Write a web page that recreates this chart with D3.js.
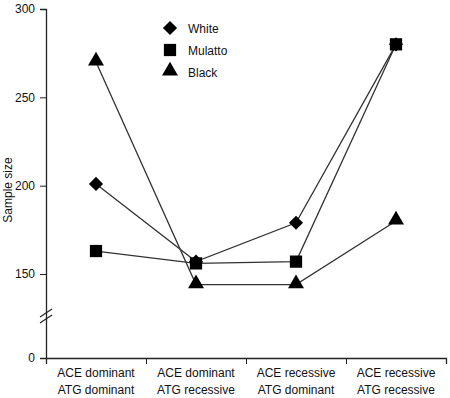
<!DOCTYPE html>
<html>
<head>
<meta charset="utf-8">
<script src="https://cdn.jsdelivr.net/npm/d3@7"></script>
<style>
  body { margin: 0; background: #fff; }
  text { font-family: "Liberation Sans", Arial, sans-serif; fill: #111; }
</style>
</head>
<body>
<div id="chart"></div>
<script>
const categories = [
    ["ACE dominant", "ATG dominant"],
    ["ACE dominant", "ATG recessive"],
    ["ACE recessive", "ATG dominant"],
    ["ACE recessive", "ATG recessive"]
];
const groups = ["White", "Mulatto", "Black"];
const white = [201, 157, 179, 280];
const mulatto = [163, 156, 157, 280];
const black = [270, 144, 144, 180];
const yTicks = [0, 150, 200, 250, 300];

const series = [
    {name: "White", values: white, shape: "diamond"},
    {name: "Mulatto", values: mulatto, shape: "square"},
    {name: "Black", values: black, shape: "triangle"}
];

const width = 450, height = 398;
const left = 46, right = 446, bottom = 358;

const svg = d3.select("#chart")
    .append("svg")
    .attr("width", width)
    .attr("height", height);

// broken axis: 0 sits below the break, the upper part is linear from 130 to 300
const upper = d3.scaleLinear().domain([150, 300]).range([274, 9]);
const y = d3.scaleLinear()
    .domain([0, 130, 300])
    .range([bottom, upper(130), upper(300)]);

const x = d3.scaleBand()
    .domain(d3.range(categories.length))
    .range([left, right]);

const xEdges = d3.scaleLinear()
    .domain([0, categories.length])
    .range([left, right]);

function symbolPath(shape) {
    if (shape === "diamond") return d3.symbol(d3.symbolSquare, 100)();
    if (shape === "square") return d3.symbol(d3.symbolSquare, 150)();
    return d3.symbol(d3.symbolTriangle, 110)();
}
function symbolTransform(shape, px, py) {
    if (shape === "diamond") return `translate(${px},${py}) rotate(45)`;
    if (shape === "triangle") return `translate(${px},${py - 1})`;
    return `translate(${px},${py})`;
}

// y axis
const yAxis = svg.append("g")
    .attr("transform", `translate(${left},0)`)
    .call(d3.axisLeft(y).tickValues(yTicks).tickSize(6).tickPadding(5));
yAxis.select(".domain").attr("stroke", "#222").attr("stroke-width", 1.3);
yAxis.selectAll(".tick line").attr("stroke", "#222");
yAxis.selectAll(".tick text")
    .style("font-size", "12px")
    .style("font-family", "Liberation Sans, Arial, sans-serif")
    .attr("fill", "#111");

// break marks
const breakY = 316;
[-3, 3].forEach(off => {
    svg.append("line")
        .attr("x1", left - 6).attr("y1", breakY + off + 4)
        .attr("x2", left + 6).attr("y2", breakY + off - 4)
        .attr("stroke", "#222")
        .attr("stroke-width", 1.2);
});

// x axis
const xAxis = svg.append("g")
    .attr("transform", `translate(0,${bottom})`)
    .call(d3.axisBottom(xEdges).tickValues(d3.range(categories.length + 1)).tickFormat("").tickSize(6).tickSizeOuter(6));
xAxis.select(".domain").attr("stroke", "#222").attr("stroke-width", 1.3);
xAxis.selectAll(".tick line").attr("stroke", "#222");

const labels = svg.append("g");
categories.forEach((lines, i) => {
    lines.forEach((t, j) => {
        labels.append("text")
            .attr("x", x(i) + x.bandwidth() / 2)
            .attr("y", 377 + j * 17)
            .attr("text-anchor", "middle")
            .style("font-size", "12px")
            .text(t);
    });
});

svg.append("text")
    .attr("transform", "translate(12,190) rotate(-90)")
    .attr("text-anchor", "middle")
    .style("font-size", "12px")
    .text("Sample size");

// lines
const line = d3.line()
    .x((d, i) => x(i) + x.bandwidth() / 2)
    .y(d => y(d));

series.forEach(s => {
    svg.append("path")
        .datum(s.values)
        .attr("d", line)
        .attr("fill", "none")
        .attr("stroke", "#333")
        .attr("stroke-width", 1.3);
});

series.forEach(s => {
    svg.append("g")
        .selectAll("path")
        .data(s.values)
        .join("path")
        .attr("d", symbolPath(s.shape))
        .attr("transform", (d, i) => symbolTransform(s.shape, x(i) + x.bandwidth() / 2, y(d)))
        .attr("fill", "#000");
});

// legend
const legend = svg.append("g").attr("transform", "translate(170,28)");
series.forEach((s, i) => {
    const ly = i * 22;
    legend.append("path")
        .attr("d", symbolPath(s.shape))
        .attr("transform", symbolTransform(s.shape, 0, ly))
        .attr("fill", "#000");
    legend.append("text")
        .attr("x", 18)
        .attr("y", ly + 5)
        .style("font-size", "12px")
        .text(s.name);
});
</script>
</body>
</html>
